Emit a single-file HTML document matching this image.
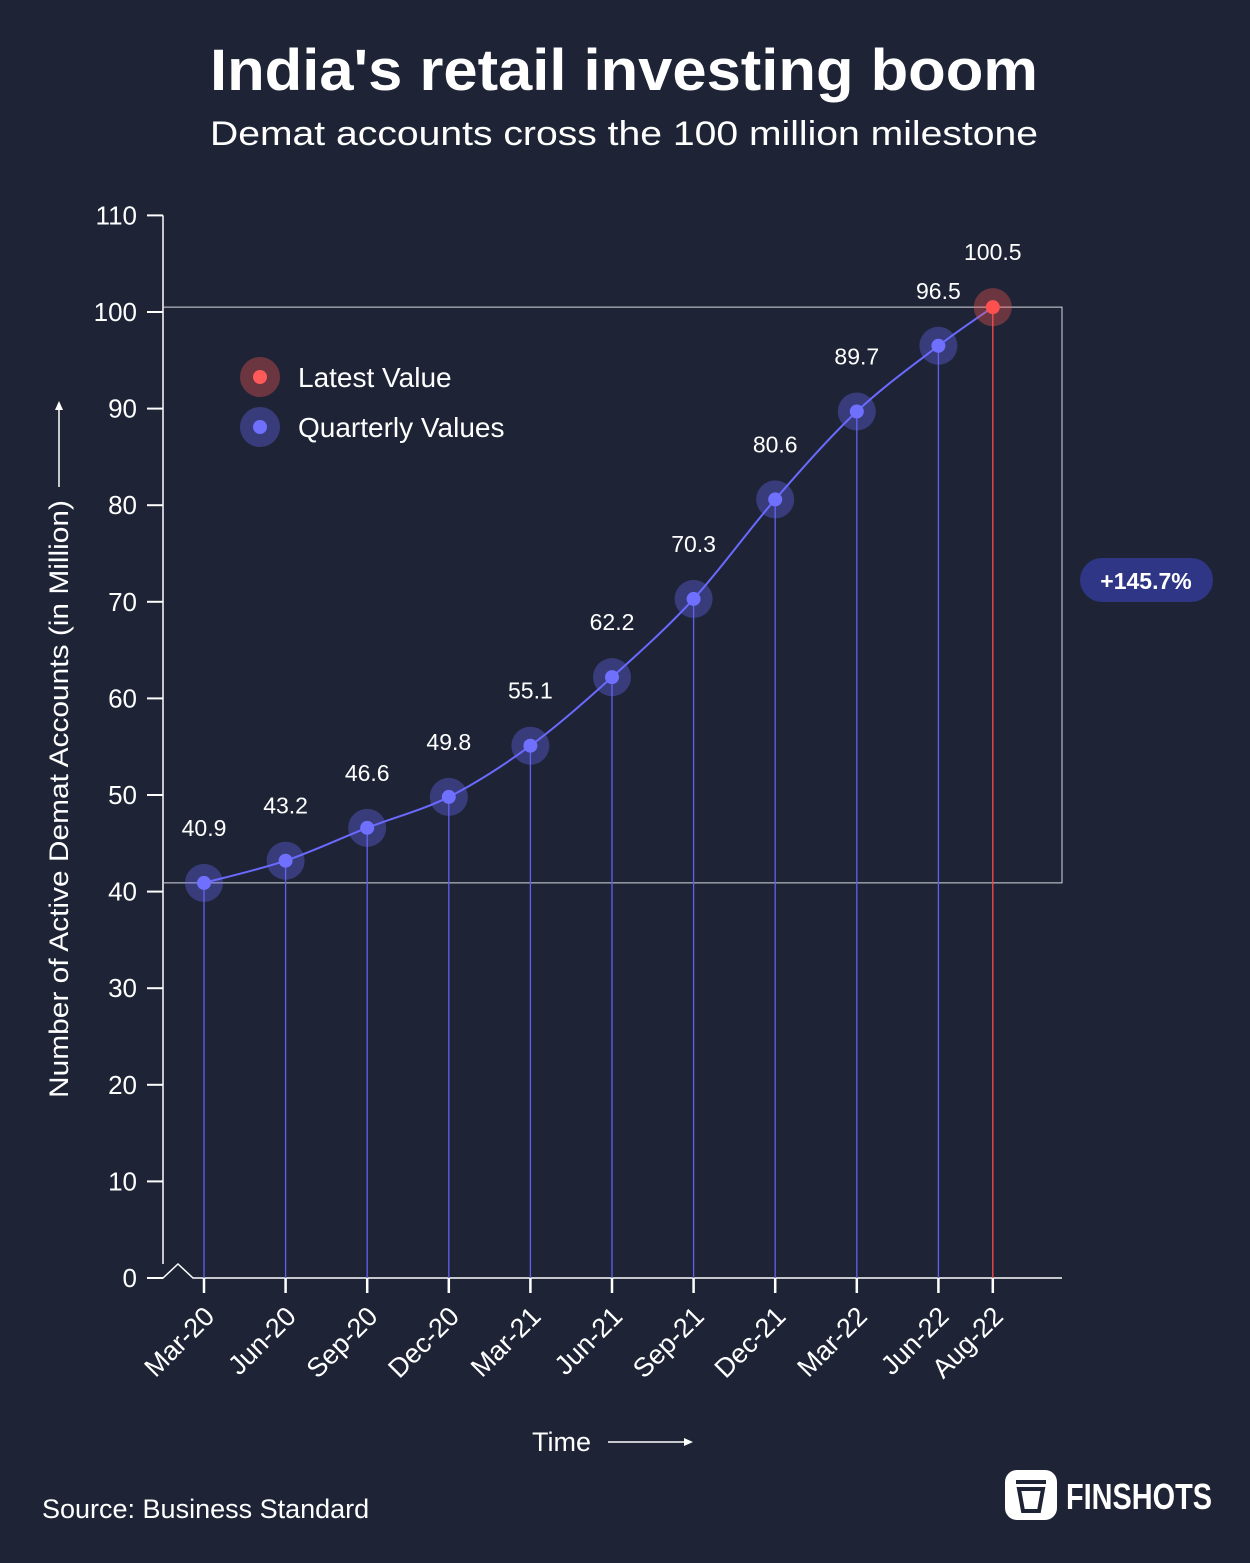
<!DOCTYPE html>
<html><head><meta charset="utf-8">
<style>
html,body{margin:0;padding:0;background:#1e2435;}
svg{display:block;font-family:"Liberation Sans",sans-serif;}
</style></head>
<body>
<svg id="c" width="1250" height="1563" viewBox="0 0 1250 1563" xmlns="http://www.w3.org/2000/svg">
<rect width="1250" height="1563" fill="#1e2435"/>
<text x="210" y="90" fill="#fff" font-size="58" font-weight="bold" textLength="828" lengthAdjust="spacingAndGlyphs">India's retail investing boom</text>
<text x="210" y="145" fill="#fff" font-size="34" textLength="828" lengthAdjust="spacingAndGlyphs">Demat accounts cross the 100 million milestone</text>
<g id="plot"></g>
<g>
<circle cx="260" cy="377" r="20" fill="#ff5a5a" opacity="0.35"/><circle cx="260" cy="377" r="7" fill="#ff5a5a"/>
<text x="298" y="387" fill="#fff" font-size="28">Latest Value</text>
<circle cx="260" cy="427" r="20" fill="#6a6aff" opacity="0.35"/><circle cx="260" cy="427" r="7" fill="#7070ff"/>
<text x="298" y="437" fill="#fff" font-size="28">Quarterly Values</text>
</g>
<g>
<text transform="translate(68,799) rotate(-90)" text-anchor="middle" fill="#fff" font-size="27" textLength="598" lengthAdjust="spacingAndGlyphs">Number of Active Demat Accounts (in Million)</text>
<line x1="59" y1="487" x2="59" y2="408" stroke="#fff" stroke-width="1.5"/>
<path d="M55,410 L59,401 L63,410 Z" fill="#fff"/>
</g>
<g>
<text x="532" y="1451" fill="#fff" font-size="27">Time</text>
<line x1="608" y1="1442" x2="686" y2="1442" stroke="#fff" stroke-width="1.5"/>
<path d="M684,1438 L693,1442 L684,1446 Z" fill="#fff"/>
</g>
<g>
<rect x="1080" y="558" width="133" height="44" rx="22" fill="#2e3685"/>
<text x="1146" y="589" text-anchor="middle" fill="#fff" font-size="23" font-weight="bold">+145.7%</text>
</g>
<text x="42" y="1518" fill="#fff" font-size="27">Source: Business Standard</text>
<g>
<rect x="1005" y="1470" width="52" height="50" rx="12" fill="#fff"/>
<path d="M1016,1482 h30 M1019,1489 h24 l-4,22 h-16 z" stroke="#1e2435" stroke-width="4" fill="none"/>
<text x="1066" y="1509" fill="#fff" font-size="36" font-weight="bold" textLength="146" lengthAdjust="spacingAndGlyphs">FINSHOTS</text>
</g>
</svg>
<script>
const categories = ["Mar-20","Jun-20","Sep-20","Dec-20","Mar-21","Jun-21","Sep-21","Dec-21","Mar-22","Jun-22","Aug-22"];
const monthIndex = [0,3,6,9,12,15,18,21,24,27,29];
const values = [40.9,43.2,46.6,49.8,55.1,62.2,70.3,80.6,89.7,96.5,100.5];
const yTicks = [0,10,20,30,40,50,60,70,80,90,100,110];
const changeLabel = "+145.7%";

const NS = "http://www.w3.org/2000/svg";
const plot = document.getElementById("plot");
const X0 = 204, PXM = 27.2, Y0 = 1278, PXU = 9.66;
const xs = m => X0 + m * PXM;
const ys = v => Y0 - v * PXU;
function mk(tag, attrs, parent) {
  const e = document.createElementNS(NS, tag);
  for (const k in attrs) e.setAttribute(k, attrs[k]);
  (parent || plot).appendChild(e);
  return e;
}
const yAxis = mk("g", {});


mk("line", {x1:163, y1:ys(110), x2:163, y2:1264, stroke:"#fff", "stroke-width":1.5}, yAxis);
yTicks.forEach(t => {
  const y = ys(t);
  mk("line", {x1:147, y1:y, x2:163, y2:y, stroke:"#fff", "stroke-width":2}, yAxis);
  const tx = mk("text", {x:137, y:y + 9, "text-anchor":"end", fill:"#fff", "font-size":26}, yAxis);
  tx.textContent = t;
  
  
});
const xAxis = mk("g", {});


mk("path", {d:"M147,1278 H163 L178,1264 L193,1278 H1062", stroke:"#fff", "stroke-width":1.5, fill:"none"}, xAxis);
const fv = values[0], lv = values[values.length - 1];
const br = mk("path", {d:`M163,${ys(lv)} H1062 V${ys(fv)} H163`, stroke:"#d8d8e0", "stroke-width":1, fill:"none"});


categories.forEach((c, i) => {
  const x = xs(monthIndex[i]);
  const last = i === categories.length - 1;
  const dl = mk("line", {x1:x, y1:ys(values[i]), x2:x, y2:Y0, stroke:last ? "#ff4a4a" : "#6060ee", "stroke-width":1.3});
  
  
  mk("line", {x1:x, y1:Y0, x2:x, y2:1293, stroke:"#fff", "stroke-width":2.5}, xAxis);
  const tx = mk("text", {transform:`translate(${x + 12},${1318}) rotate(-45)`, "text-anchor":"end", fill:"#fff", "font-size":27}, xAxis);
  tx.textContent = c;
  
  
});
const pts = values.map((v, i) => [xs(monthIndex[i]), ys(v)]);
let d = `M${pts[0][0]},${pts[0][1]}`;
for (let i = 0; i < pts.length - 1; i++) {
  const p0 = pts[Math.max(0, i - 1)], p1 = pts[i], p2 = pts[i + 1], p3 = pts[Math.min(pts.length - 1, i + 2)];
  const c1 = [p1[0] + (p2[0] - p0[0]) / 6, p1[1] + (p2[1] - p0[1]) / 6];
  const c2 = [p2[0] - (p3[0] - p1[0]) / 6, p2[1] - (p3[1] - p1[1]) / 6];
  d += ` C${c1[0]},${c1[1]} ${c2[0]},${c2[1]} ${p2[0]},${p2[1]}`;
}
const line = mk("path", {d, stroke:"#6a6aff", "stroke-width":2, fill:"none"});


values.forEach((v, i) => {
  const x = pts[i][0], y = pts[i][1];
  const last = i === values.length - 1;
  const col = last ? "#ff5050" : "#7070ff";
  const g = mk("g", {});
  
  
  mk("circle", {cx:x, cy:y, r:19, fill:last ? "#ff5a5a" : "#6a6aff", opacity:0.35}, g);
  mk("circle", {cx:x, cy:y, r:7, fill:col}, g);
  const tx = mk("text", {x:x, y:y - 47, "text-anchor":"middle", fill:"#fff", "font-size":23}, g);
  tx.textContent = v.toFixed(1);
  
  
});
</script>
</body></html>
